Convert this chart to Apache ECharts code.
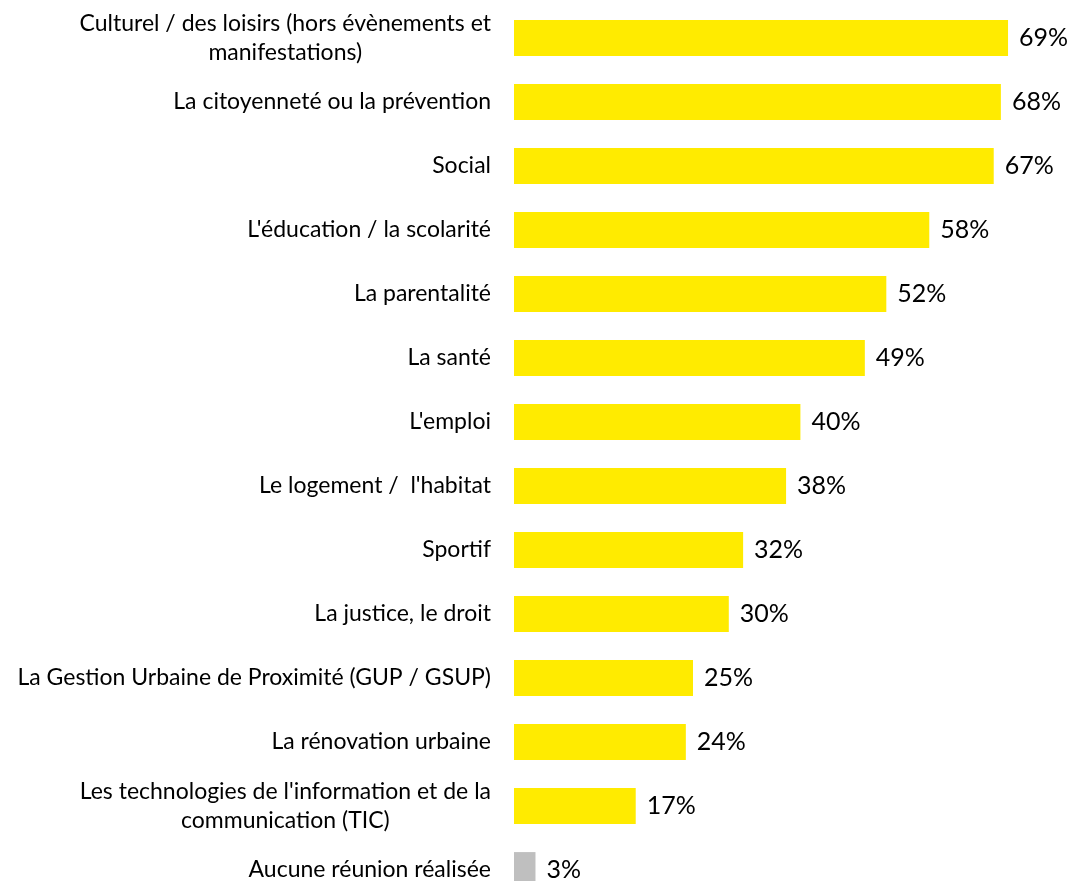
<!DOCTYPE html>
<html>
<head>
<meta charset="utf-8">
<script src="https://cdn.jsdelivr.net/npm/echarts@6/dist/echarts.min.js"></script>
<style>
  html, body { margin: 0; padding: 0; background: #fff; }
  #chart { width: 1070px; height: 881px; }
</style>
</head>
<body>
<div id="chart"></div>
<script>
const categories = [
  "Culturel / des loisirs (hors évènements et\nmanifestations)",
  "La citoyenneté ou la prévention",
  "Social",
  "L'éducation / la scolarité",
  "La parentalité",
  "La santé",
  "L'emploi",
  "Le logement /  l'habitat",
  "Sportif",
  "La justice, le droit",
  "La Gestion Urbaine de Proximité (GUP / GSUP)",
  "La rénovation urbaine",
  "Les technologies de l'information et de la\ncommunication (TIC)",
  "Aucune réunion réalisée"
];
const values = [69, 68, 67, 58, 52, 49, 40, 38, 32, 30, 25, 24, 17, 3];
const barColors = ["#FFEB00", "#FFEB00", "#FFEB00", "#FFEB00", "#FFEB00", "#FFEB00", "#FFEB00",
  "#FFEB00", "#FFEB00", "#FFEB00", "#FFEB00", "#FFEB00", "#FFEB00", "#BFBFBF"];

const chart = echarts.init(document.getElementById("chart"));

const option = {
  animation: false,
  grid: { left: 514, top: 6, width: 716, height: 896, outerBoundsMode: "none", containLabel: false },
  xAxis: {
    type: "value",
    min: 0,
    max: 100,
    show: false
  },
  yAxis: {
    type: "category",
    inverse: true,
    data: categories,
    axisLine: { show: false },
    axisTick: { show: false },
    axisLabel: {
      margin: 23,
      align: "right",
      fontFamily: "Lato",
      fontSize: 23,
      color: "#000",
      lineHeight: 29,
      formatter: (v) => v.split("\n").map(s => "{c|" + s + "}").join("\n"),
      rich: {
        c: { align: "center", fontFamily: "Lato", fontSize: 23, color: "#000", lineHeight: 29 }
      }
    }
  },
  series: [
    {
      type: "bar",
      data: values.map((v, i) => ({ value: v, itemStyle: { color: barColors[i] } })),
      barCategoryGap: "44%",
      label: {
        show: true,
        position: "right",
        distance: 11,
        formatter: "{c}%",
        fontFamily: "Lato",
        fontSize: 25,
        color: "#000"
      }
    }
  ]
};
chart.setOption(option);
</script>
</body>
</html>
